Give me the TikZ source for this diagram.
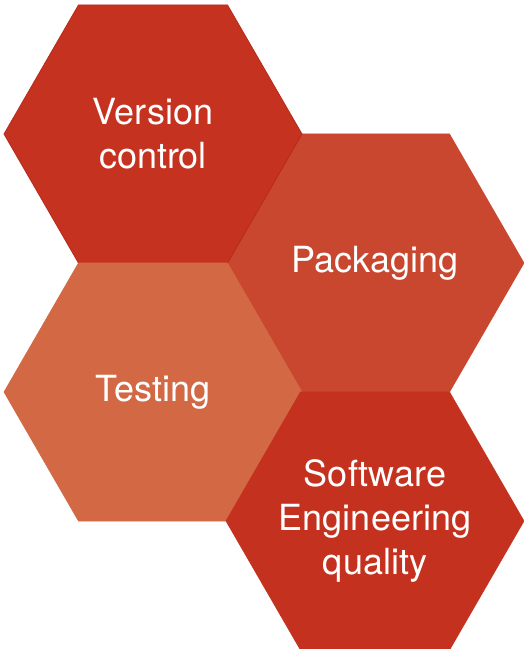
\documentclass[tikz,border=0pt]{standalone}
\usepackage{fontspec}
\setmainfont{TeX Gyre Heros}
\usetikzlibrary{shapes.geometric}
\definecolor{hexA}{RGB}{197,50,31}
\definecolor{hexB}{RGB}{201,71,46}
\definecolor{hexC}{RGB}{211,104,68}
\definecolor{hexD}{RGB}{197,49,31}
\definecolor{hexEdge}{RGB}{184,42,26}
\begin{document}
\begin{tikzpicture}[x=1pt,y=-1pt,
  hexbox/.style={regular polygon, regular polygon sides=6, minimum size=298pt,
    inner sep=0pt, outer sep=0pt, line width=0.6pt},
  hextext/.style={text=white, align=center, inner sep=0pt,
    font=\fontsize{36}{44}\selectfont}]
\useasboundingbox (0,0) rectangle (523,649);
\node[hexbox, fill=hexB, draw=hexB] (pack) at (375,263) {};
\node[hexbox, fill=hexA, draw=hexEdge, line width=0.8pt] (vc) at (153,134) {};
\node[hexbox, fill=hexC, draw=hexC] (test) at (153,392) {};
\node[hexbox, fill=hexD, draw=hexD] (seq) at (375,521) {};
\node[hextext] (packtext) at (pack.center) {Packaging};
\node[hextext] (vctext) at (vc.center) {Version\\control};
\node[hextext] (testtext) at (test.center) {Testing};
\node[hextext] (seqtext) at (seq.center) {Software\\Engineering\\quality};
\end{tikzpicture}
\end{document}
